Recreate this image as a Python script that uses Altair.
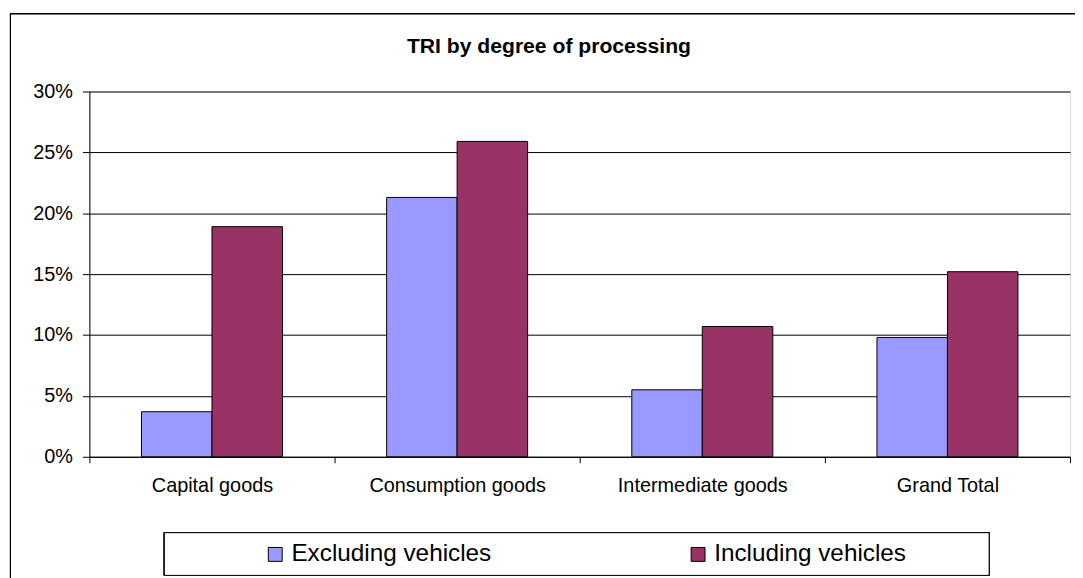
import altair as alt
import pandas as pd

categories = ["Capital goods", "Consumption goods", "Intermediate goods", "Grand Total"]
series = ["Excluding vehicles", "Including vehicles"]
excluding = [0.037, 0.213, 0.055, 0.098]
including = [0.189, 0.259, 0.107, 0.152]
colors = ["#9999FF", "#993366"]
y_ticks = [0, 0.05, 0.10, 0.15, 0.20, 0.25, 0.30]
title_text = "TRI by degree of processing"

rows = []
for c, e, i in zip(categories, excluding, including):
    rows.append({"category": c, "series": series[0], "value": e})
    rows.append({"category": c, "series": series[1], "value": i})
df = pd.DataFrame(rows)

FONT = "Liberation Sans, Arial, sans-serif"

legend = alt.Legend(
    orient="none", legendX=175, legendY=454, direction="horizontal", title=None,
    symbolType="square", symbolSize=196, symbolStrokeColor="black", symbolStrokeWidth=1,
    labelFont=FONT, labelFontSize=24.5, labelColor="black", labelLimit=400, labelOffset=4,
    columnPadding=195, padding=0,
)

bars = alt.Chart(df).mark_bar(stroke="black", strokeWidth=1).encode(
    x=alt.X("category:N", sort=categories,
            scale=alt.Scale(paddingInner=0, paddingOuter=0),
            axis=alt.Axis(title=None, labelAngle=0, tickBand="extent", grid=False,
                          tickSize=6, labelPadding=13, labelFont=FONT, labelFontSize=20,
                          labelColor="black", domainColor="black", tickColor="black")),
    xOffset=alt.XOffset("series:N", sort=series,
                        scale=alt.Scale(paddingInner=0, paddingOuter=0.739)),
    y=alt.Y("value:Q", scale=alt.Scale(domain=[0, 0.3], nice=False),
            axis=alt.Axis(title=None, values=y_ticks, format=".0%", grid=True,
                          gridColor="black", gridWidth=1, tickSize=7, labelPadding=10,
                          labelFont=FONT, labelFontSize=20, labelColor="black",
                          domainColor="black", tickColor="black")),
    color=alt.Color("series:N", sort=series,
                    scale=alt.Scale(domain=series, range=colors), legend=legend),
)

# outer chart frame and legend box (decoration)
frame = alt.Chart(df).mark_rect(fillOpacity=0, stroke="black", strokeWidth=1).encode(
    x=alt.value(-79.5), x2=alt.value(1100), y=alt.value(-78.5), y2=alt.value(600)
)
legend_box = alt.Chart(df).mark_rect(fill="white", stroke="black", strokeWidth=1).encode(
    x=alt.value(75.5), x2=alt.value(906.5), y=alt.value(444.5), y2=alt.value(487.5)
)

chart = alt.layer(frame, legend_box, bars).properties(
    width=988, height=368,
    autosize="none",
    padding={"left": 82, "top": 82, "right": 5, "bottom": 120},
    title=alt.TitleParams(title_text, font=FONT, fontSize=21.3, fontWeight="bold",
                          color="black", anchor="middle", dx=-31, offset=-45),
).configure_view(stroke="#808080", strokeWidth=1).configure(background="white")

chart.save("out.html", embed_options={"renderer": "svg", "actions": False})
